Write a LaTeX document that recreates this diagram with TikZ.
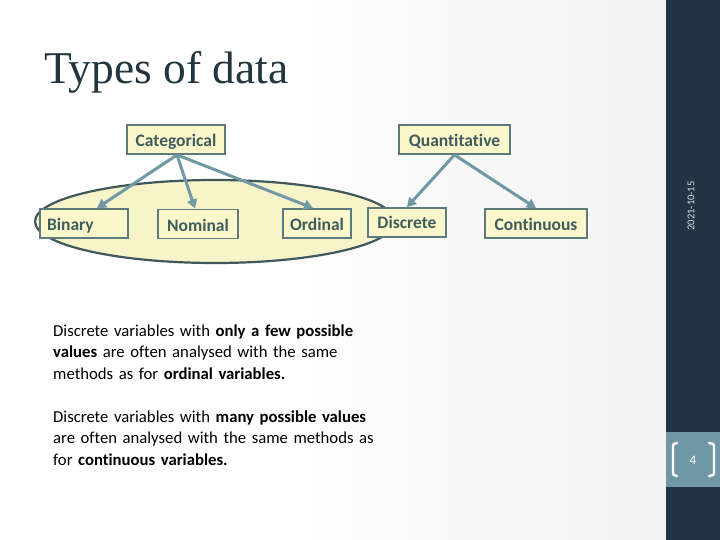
\documentclass[tikz,border=0pt]{standalone}
\usepackage{fontspec}
\setmainfont{Carlito}[Ligatures=NoCommon]
\newfontfamily\titlefont{Liberation Serif}
\usetikzlibrary{arrows.meta,shapes.geometric}
\definecolor{side}{HTML}{213642}
\definecolor{pagebox}{HTML}{6F97A5}
\definecolor{titlec}{HTML}{22363F}
\definecolor{boxfill}{HTML}{FBF7CA}
\definecolor{ellfill}{HTML}{F8F4C9}
\definecolor{boxline}{HTML}{5D7B7C}
\definecolor{boxtext}{HTML}{3E5C5D}
\definecolor{ellline}{HTML}{3E585B}
\definecolor{arrowc}{HTML}{7098A5}
\definecolor{datec}{HTML}{D4E3EA}
\pgfdeclarehorizontalshading{bgshade}{100bp}{color(0bp)=(white); color(45bp)=(white); color(100bp)=(black!9)}
\tikzset{
  databox/.style={draw=boxline, line width=1.8pt, fill=boxfill, text=boxtext,
    font=\fontsize{17.5}{19}\selectfont\bfseries, minimum height=29pt, inner sep=0pt,
    text height=14pt, text depth=0pt},
  conn/.style={draw=arrowc, line width=3pt, -{Triangle[width=10pt,length=9pt]}},
  bodytext/.style={font=\fontsize{16.7}{21.5}\selectfont, text width=370pt, align=left,
    inner sep=0pt, anchor=base west},
  brk/.style={draw=white, line width=2.4pt, line cap=round}
}
\begin{document}
\begin{tikzpicture}[x=1pt,y=-1pt]
\useasboundingbox (0,0) rectangle (720,540);
\shade[shading=bgshade] (0,0) rectangle (666,540);
\fill[side] (666,0) rectangle (720,540);
\fill[pagebox] (666,432) rectangle (720,487);
\draw[brk] (677,443) .. controls (673,444) .. (673,448) -- (673,471) .. controls (673,475) .. (677,476);
\draw[brk] (709,443) .. controls (714,444) .. (714,448) -- (714,471) .. controls (714,475) .. (709,476);
\node[text=white, font=\fontsize{13}{15}\selectfont] (pnum) at (693,460) {4};
\node[text=datec, font=\fontsize{10.5}{12}\selectfont, rotate=90] (date) at (691,206) {2021-10-15};

\node[text=titlec, font=\titlefont\fontsize{45.5}{50}\selectfont, anchor=base west, inner sep=0pt] (title) at (44,84) {Types of data};

\node[ellipse, draw=ellline, line width=2.2pt, fill=ellfill, minimum width=360pt, minimum height=83pt, inner sep=0pt] (grp) at (215,221.5) {};

\node[databox, minimum width=98pt] (cat) at (176,139.5) {Categorical};
\node[databox, minimum width=111pt] (quant) at (454.5,139.5) {Quantitative};
\node[databox, text width=74pt, align=left, inner xsep=7pt] (bin) at (84,223.5) {Binary};
\node[databox, minimum width=80pt] (nom) at (198,224) {Nominal};
\node[databox, minimum width=68pt] (ord) at (317,223.5) {Ordinal};
\node[databox, minimum width=78pt, text height=13pt] (disc) at (407,222.5) {Discrete};
\node[databox, minimum width=102pt] (cont) at (536,223.5) {Continuous};

\draw[conn] ([xshift=1pt]cat.south) -- ([xshift=13pt]bin.north);
\draw[conn] ([xshift=1pt]cat.south) -- ([xshift=-3pt]nom.north);
\draw[conn] ([xshift=1pt]cat.south) -- ([xshift=-4pt]ord.north);
\draw[conn] (quant.south) -- (disc.north);
\draw[conn] (quant.south) -- (cont.north);

\node[bodytext] (p1) at (53,336) {Discrete variables with \textbf{only a few possible}\\
\textbf{values} are often analysed with the same\\
methods as for \textbf{ordinal variables.}};
\node[bodytext] (p2) at (53,422) {Discrete variables with \textbf{many possible values}\\
are often analysed with the same methods as\\
for \textbf{continuous variables.}};
\end{tikzpicture}
\end{document}
